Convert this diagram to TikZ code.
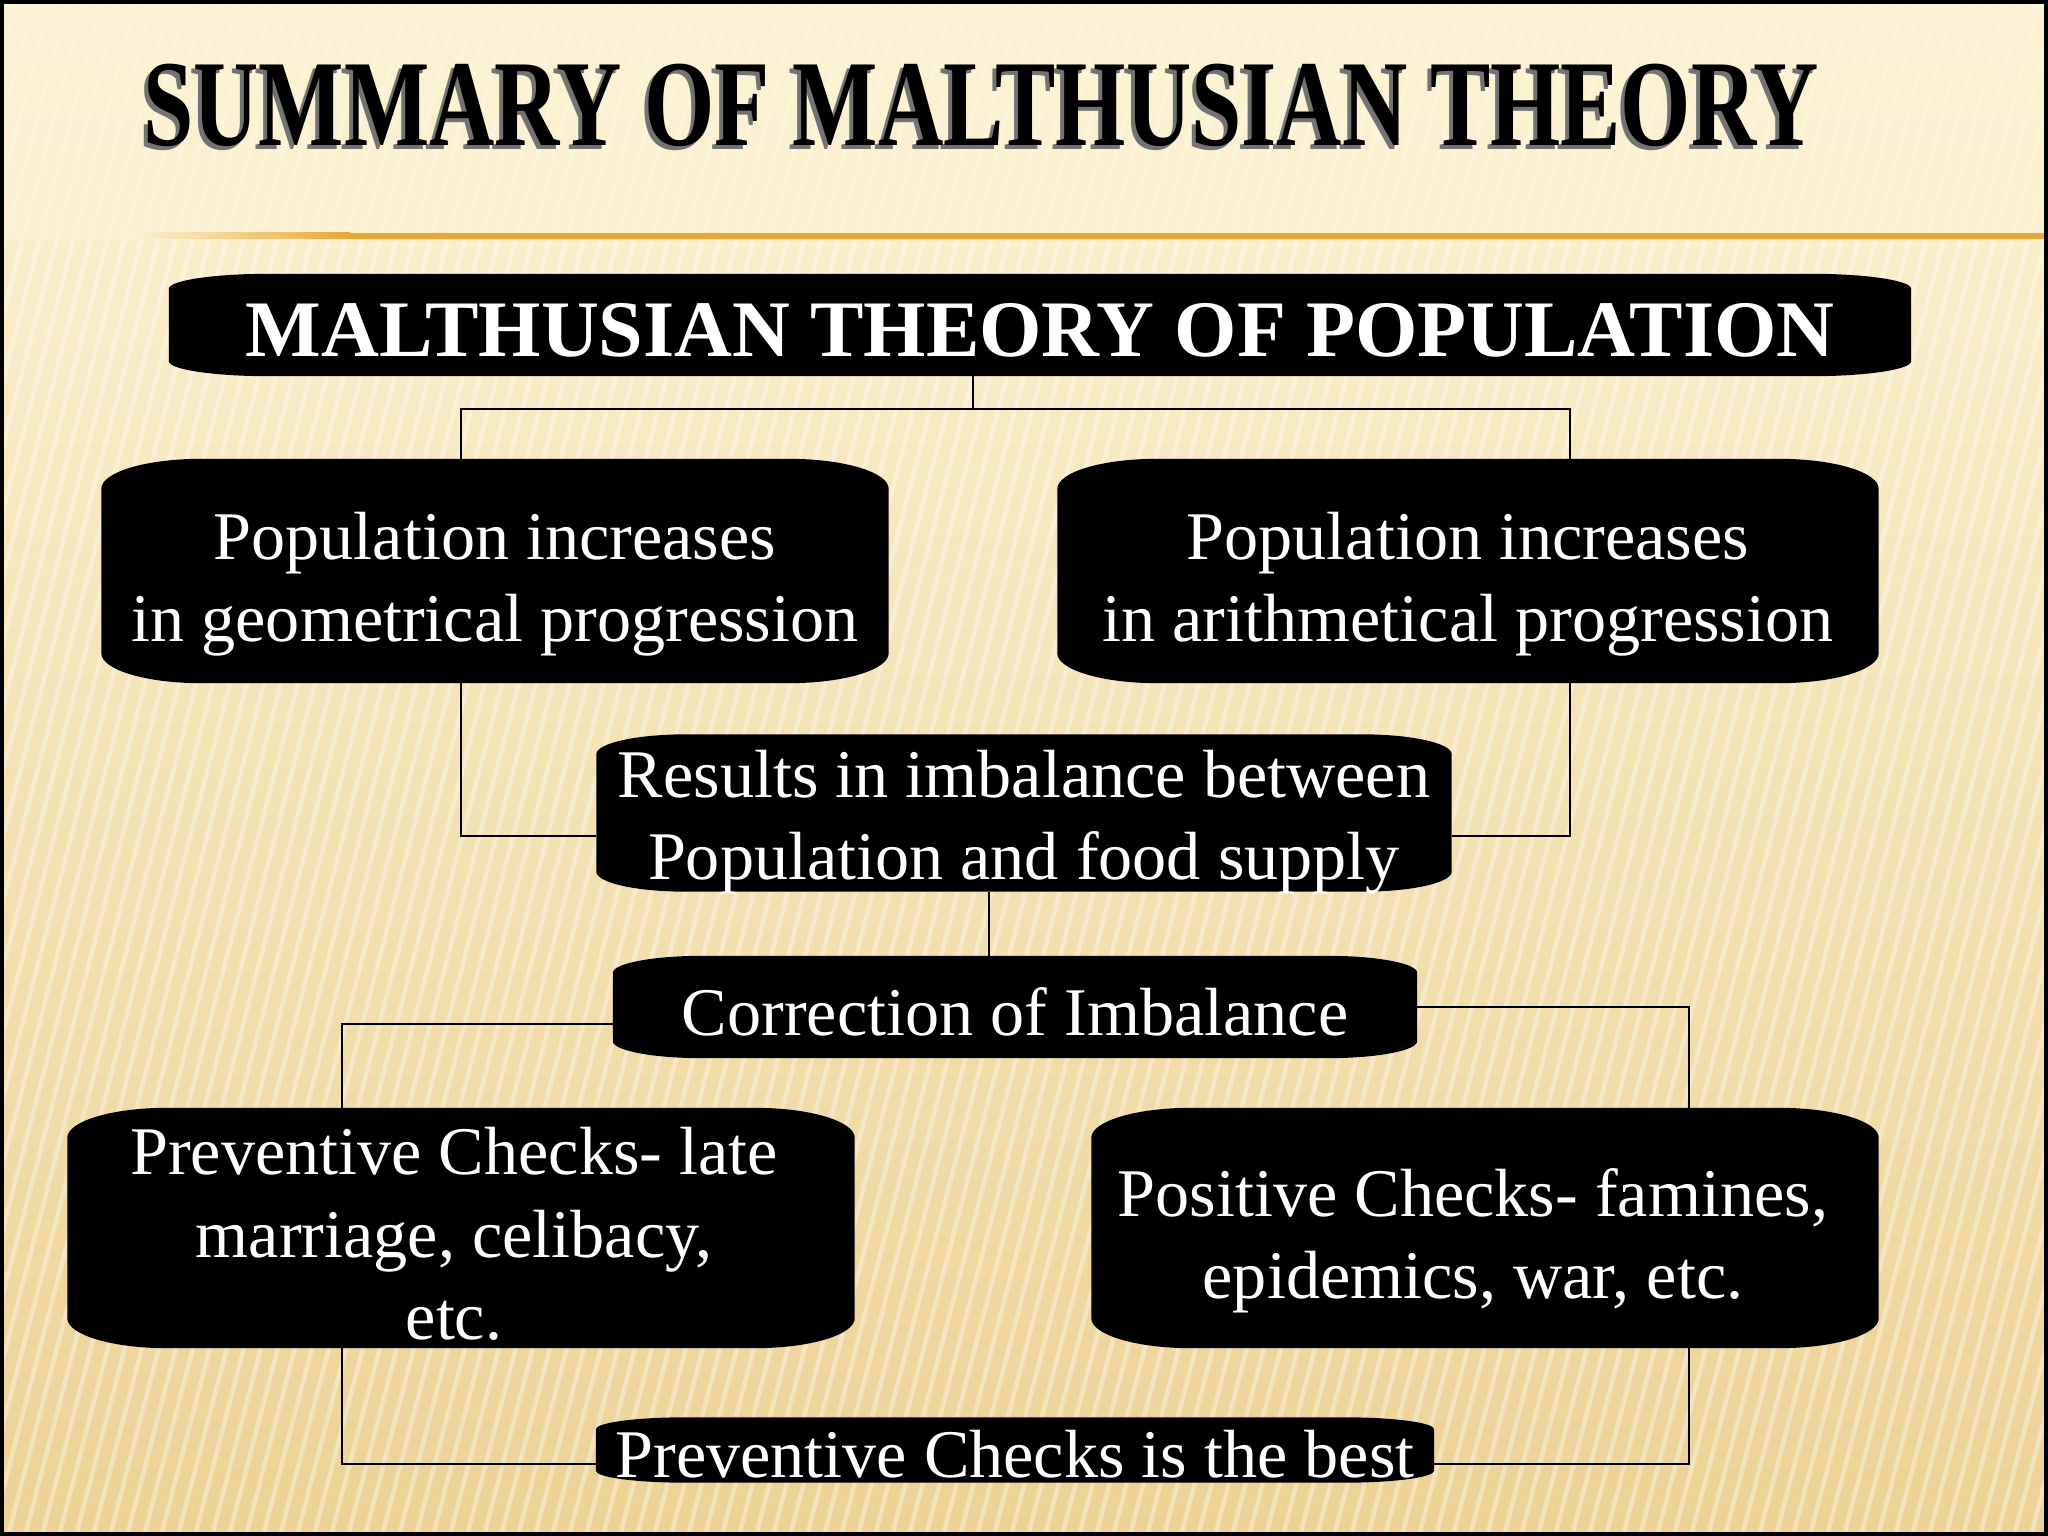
\documentclass[tikz,border=0pt]{standalone}
\usepackage{fontspec}
\setmainfont{Liberation Serif}
\usepackage{xcolor}
\usepackage{graphicx}
\usepackage{tikz}
\usetikzlibrary{calc}
\usetikzlibrary{backgrounds}

\definecolor{paper}{HTML}{F7E6B4}
\definecolor{paperlight}{HTML}{FCF3D4}
\definecolor{paperdark}{HTML}{EDD296}
\definecolor{ruleline}{HTML}{E8A838}

\tikzset{
  box/.style={inner sep=0pt},
  blk/.style={text=white, inner sep=0pt, align=center, font=\fontsize{19.4}{23.4}\selectfont},
  conn/.style={draw=black, line width=0.8pt},
  headline/.style={font=\bfseries\fontsize{35}{40}\selectfont, anchor=base, inner sep=0pt}
}

\newcommand{\capbox}[3]{%
  \fill[black] let \p1=(#1.south west), \p2=(#1.north east) in
    (\x1,\y1+#3) -- (\x1,\y2-#3)
    arc[start angle=180, end angle=90, x radius=#2, y radius=#3]
    -- (\x2-#2,\y2)
    arc[start angle=90, end angle=0, x radius=#2, y radius=#3]
    -- (\x2,\y1+#3)
    arc[start angle=0, end angle=-90, x radius=#2, y radius=#3]
    -- (\x1+#2,\y1)
    arc[start angle=270, end angle=180, x radius=#2, y radius=#3] -- cycle;}

\begin{document}
\begin{tikzpicture}
  \useasboundingbox (0,0) rectangle (20.48,-15.36);

  \begin{scope}[on background layer]
    \clip (0,0) rectangle (20.48,-15.36);
    \shade[top color=paperlight, bottom color=paperdark] (0,0) rectangle (20.48,-15.36);
    \foreach \i in {0,...,150}
      \draw[white, opacity=0.35, line width=1.3pt] ({\i*0.17-4},-15.36) -- ++(4,15.36);
    \shade[top color=paperlight, bottom color=paperlight, opacity=0.6] (0,0) rectangle (20.48,-2.4);
  \end{scope}

  \node[headline, text=black!55] (titleshadow) at (9.77,-1.50) {\scalebox{0.735}[1]{SUMMARY OF MALTHUSIAN THEORY}};
  \node[headline, text=black] (title) at (9.81,-1.46) {\scalebox{0.735}[1]{SUMMARY OF MALTHUSIAN THEORY}};

  \fill[ruleline] (3.5,-2.33) rectangle (20.48,-2.39);
  \shade[left color=paperlight, right color=ruleline] (1.3,-2.33) rectangle (3.5,-2.39);

  \node[box, minimum width=17.41cm, minimum height=1.01cm] (top) at (10.40,-3.25) {};
  \node[box, minimum width=7.86cm, minimum height=2.23cm] (geo) at (4.95,-5.71) {};
  \node[box, minimum width=8.20cm, minimum height=2.23cm] (ari) at (14.68,-5.71) {};
  \node[box, minimum width=8.54cm, minimum height=1.56cm] (res) at (10.24,-8.13) {};
  \node[box, minimum width=8.03cm, minimum height=1.01cm] (cor) at (10.15,-10.07) {};
  \node[box, minimum width=7.86cm, minimum height=2.39cm] (pre) at (4.61,-12.28) {};
  \node[box, minimum width=7.86cm, minimum height=2.39cm] (pos) at (14.85,-12.28) {};
  \node[box, minimum width=8.37cm, minimum height=0.64cm] (best) at (10.15,-14.50) {};

  \begin{scope}[on background layer]
    \capbox{top}{1.0cm}{0.15cm}
    \capbox{geo}{1.0cm}{0.3cm}
    \capbox{ari}{1.0cm}{0.3cm}
    \capbox{res}{0.9cm}{0.2cm}
    \capbox{cor}{0.9cm}{0.17cm}
    \capbox{pre}{1.0cm}{0.3cm}
    \capbox{pos}{1.0cm}{0.3cm}
    \capbox{best}{0.9cm}{0.12cm}
  \end{scope}

  \node[blk, font=\bfseries\fontsize{22.8}{27}\selectfont] (toptxt) at ([yshift=-0.05cm]top.center) {MALTHUSIAN THEORY OF POPULATION};
  \node[blk] (geotxt) at ([yshift=-0.13cm]geo.center) {Population increases\\ in geometrical progression};
  \node[blk] (aritxt) at ([yshift=-0.13cm]ari.center) {Population increases\\ in arithmetical progression};
  \node[blk] (restxt) at ([yshift=-0.09cm]res.center) {Results in imbalance between\\ Population and food supply};
  \node[blk] (cortxt) at ([yshift=-0.05cm]cor.center) {Correction of Imbalance};
  \node[blk] (pretxt) at ([xshift=-0.07cm, yshift=-0.06cm]pre.center) {Preventive Checks- late\\ marriage, celibacy,\\ etc.};
  \node[blk] (postxt) at ([xshift=-0.12cm, yshift=-0.13cm]pos.center) {Positive Checks- famines,\\ epidemics, war, etc.};
  \node[blk] (besttxt) at ([yshift=-0.04cm]best.center) {Preventive Checks is the best};

  \coordinate (split) at (9.73,-4.09);
  \coordinate (gbus) at (4.61,-4.09);
  \coordinate (abus) at (15.70,-4.09);
  \coordinate (link) at (9.89,-9.2);
  \coordinate (pbus) at (3.42,-14.64);
  \coordinate (qbus) at (16.89,-14.64);

  \draw[conn] (top.south -| split) -- (split);
  \draw[conn] (geo.north -| gbus) -- (gbus) -- (abus) -- (ari.north -| abus);
  \draw[conn] (geo.south -| gbus) |- ([yshift=-0.23cm]res.west);
  \draw[conn] (ari.south -| abus) |- ([yshift=-0.23cm]res.east);
  \draw[conn] (res.south -| link) -- (cor.north -| link);
  \draw[conn] ([yshift=-0.17cm]cor.west) -| (pre.north -| pbus);
  \draw[conn] (cor.east) -| (pos.north -| qbus);
  \draw[conn] (pre.south -| pbus) |- ([yshift=-0.14cm]best.west);
  \draw[conn] (pos.south -| qbus) |- ([yshift=-0.14cm]best.east);

  \draw[black, line width=1pt] (0.02,-0.02) rectangle (20.46,-15.34);
\end{tikzpicture}
\end{document}
